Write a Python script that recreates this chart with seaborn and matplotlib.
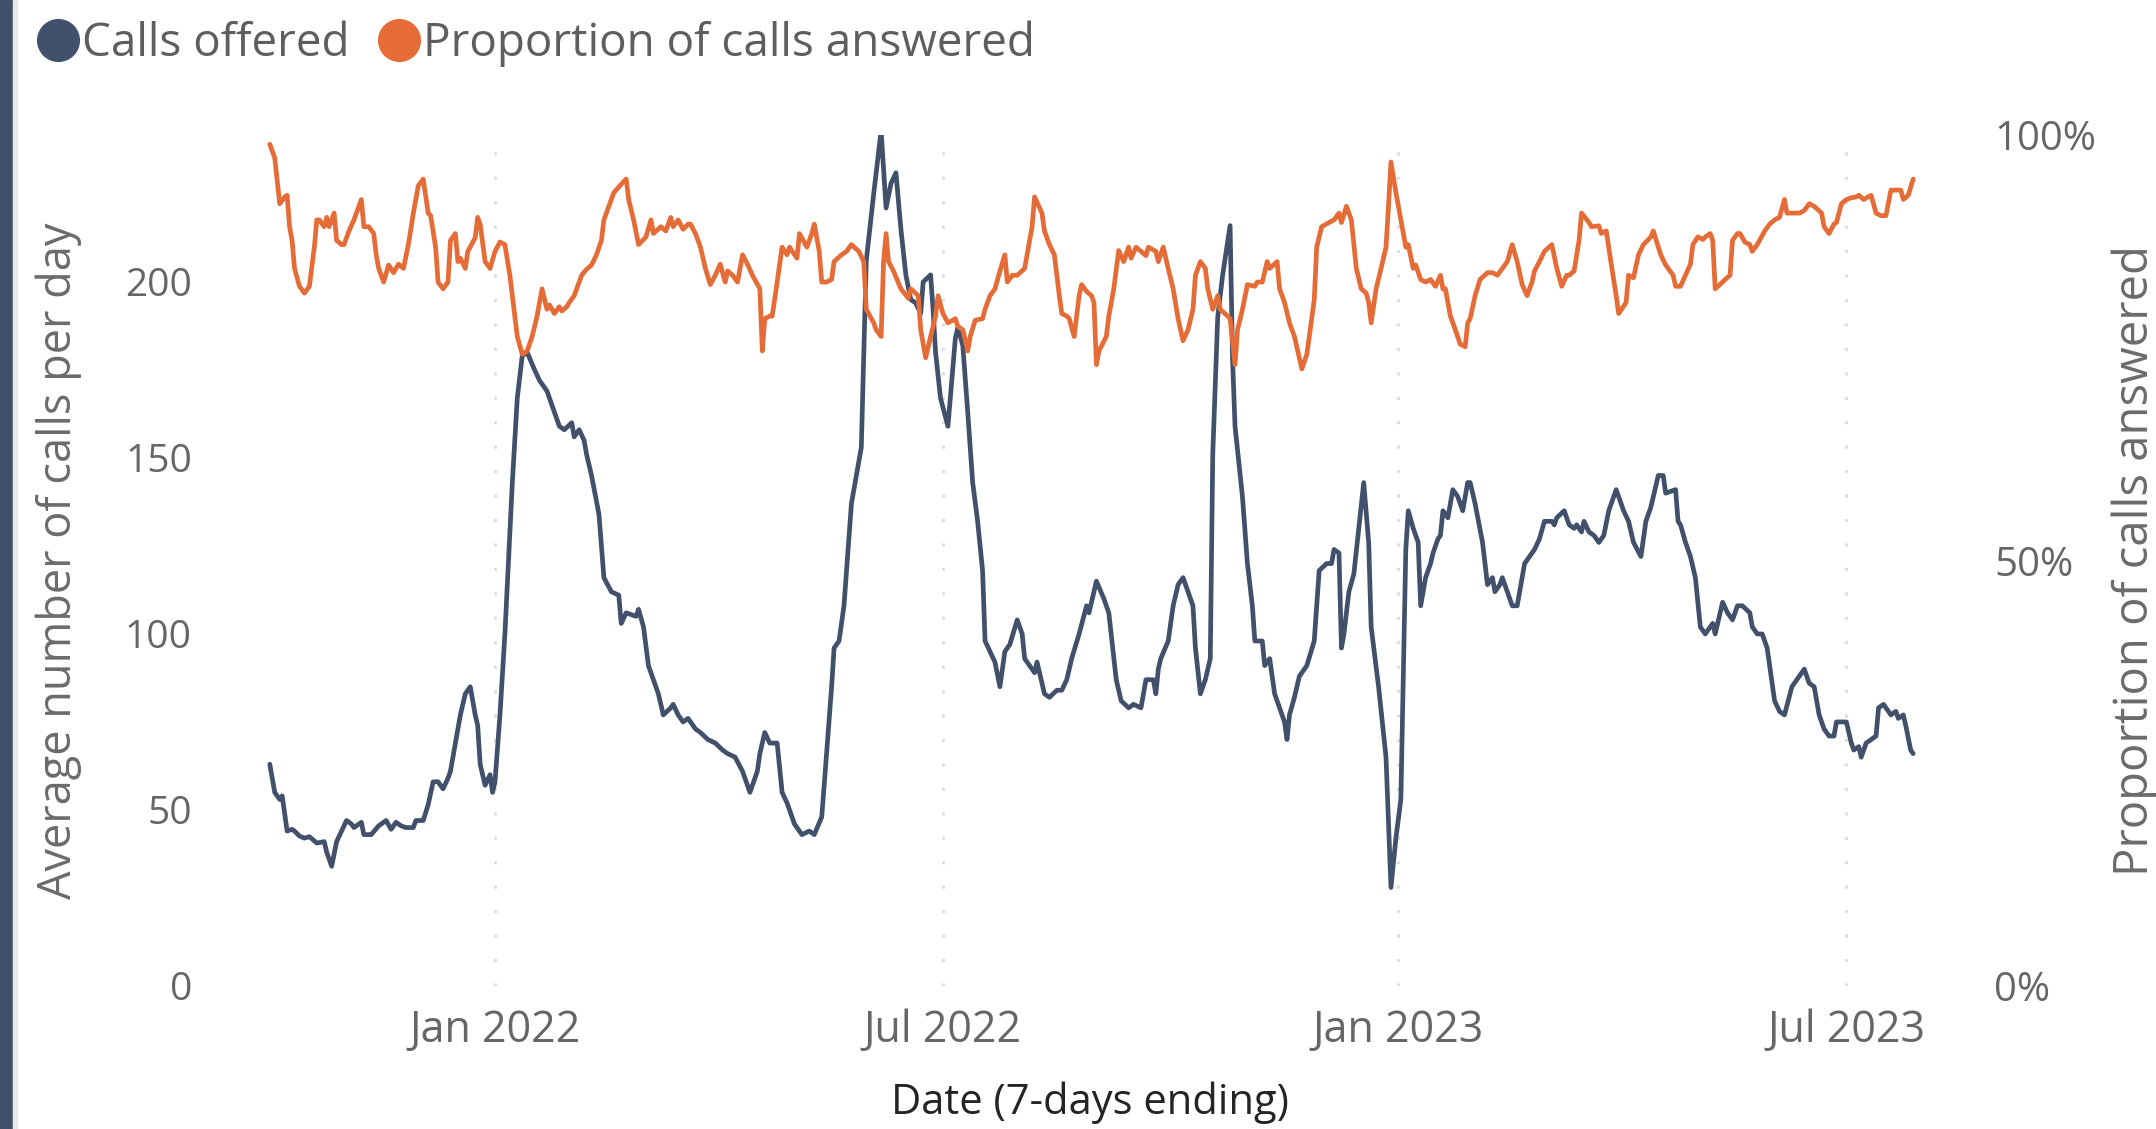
import numpy as np
import pandas as pd
import matplotlib
matplotlib.use("Agg")
import matplotlib.pyplot as plt
import matplotlib.dates as mdates
from matplotlib.lines import Line2D
from matplotlib.patches import Rectangle
from matplotlib.ticker import FuncFormatter
import seaborn as sns

# Days relative to 1 Jan 2022 (7-day window ending on that day)
calls_day = [
    -91, -89, -87, -86, -84, -82, -81, -79, -77, -75,
    -72, -69, -68, -66, -64, -62, -60, -58, -57, -54,
    -53, -50, -47, -44, -42, -40, -38, -36, -33, -32,
    -29, -27, -25, -23, -21, -19, -18, -16, -14, -12,
    -10, -8, -7, -6, -4, -2, -1, 0, 2, 4,
    7, 9, 11, 13, 16, 18, 21, 24, 26, 28,
    31, 32, 34, 36, 37, 39, 42, 44, 47, 50,
    51, 53, 57, 58, 60, 62, 66, 68, 71, 72,
    74, 76, 78, 81, 83, 86, 89, 92, 94, 97,
    100, 103, 106, 107, 109, 111, 114, 116, 118, 121,
    124, 127, 129, 132, 133, 136, 137, 139, 141, 144,
    148, 150, 153, 156, 158, 160, 162, 164, 166, 168,
    170, 172, 173, 176, 177, 178, 180, 183, 186, 187,
    189, 191, 193, 195, 197, 198, 200, 202, 204, 206,
    208, 211, 213, 214, 218, 219, 222, 224, 227, 229,
    231, 233, 236, 239, 240, 243, 246, 248, 251, 253,
    256, 258, 261, 263, 266, 267, 268, 269, 272, 274,
    276, 278, 280, 282, 283, 285, 287, 289, 290, 292,
    294, 297, 298, 299, 302, 304, 306, 307, 310, 311,
    313, 315, 317, 319, 320, 321, 323, 325, 328, 331,
    333, 336, 338, 339, 341, 342, 343, 345, 347, 349,
    351, 353, 354, 357, 360, 362, 364, 366, 368, 369,
    371, 373, 374, 376, 378, 379, 381, 382, 383, 385,
    387, 389, 391, 393, 394, 396, 399, 401, 403, 404,
    406, 407, 408, 411, 413, 416, 418, 420, 422, 424,
    427, 428, 429, 432, 434, 436, 437, 439, 440, 442,
    444, 446, 448, 450, 452, 453, 456, 458, 460, 463,
    465, 467, 469, 470, 472, 473, 477, 478, 479, 481,
    483, 485, 487, 489, 492, 493, 496, 498, 500, 502,
    504, 507, 508, 510, 512, 514, 517, 519, 521, 524,
    526, 528, 529, 531, 533, 535, 537, 539, 541, 542,
    544, 546, 548, 549, 551, 552, 554, 556, 558, 559,
    561, 563, 564, 566, 567, 569, 570, 572, 573,
]

# Average number of calls offered per day
calls_offered = [
    63, 55, 53, 54, 44, 44.5, 44, 42.6, 42, 42.4,
    40.6, 41, 38, 34, 41, 44, 47, 46, 45, 46.5,
    43, 43, 45.5, 47, 44.5, 46.5, 45.5, 45, 45, 47,
    47, 51.5, 58, 58, 56, 59, 61, 69, 77, 83,
    85, 77, 74, 63, 57, 60, 55, 58, 77, 100,
    143, 167, 179, 180, 175, 172, 169, 163, 159, 158,
    160, 156, 158, 155, 151, 145, 134, 116, 112, 111,
    103, 106, 105, 107, 102, 91, 83, 77, 79, 80,
    77, 75, 76, 73, 72, 70, 69, 67, 66, 65,
    61, 55, 61, 66, 72, 69, 69, 55, 52, 46,
    43, 44, 43, 48, 57, 85, 96, 98, 108, 137,
    153, 206, 225, 243, 221, 228, 231, 215, 202, 195,
    194, 191, 200, 202, 192, 180, 167, 159, 184, 187,
    182, 163, 143, 132, 118, 98, 95, 92, 85, 95,
    97, 104, 100, 93, 89, 92, 83, 82, 84, 84,
    87, 93, 100, 108, 106, 115, 110, 106, 87, 81,
    79, 80, 79, 87, 87, 83, 90, 93, 98, 108,
    114, 116, 112, 108, 96, 83, 87, 93, 151, 190,
    202, 216, 178, 159, 139, 120, 108, 98, 98, 91,
    93, 83, 79, 75, 70, 77, 82, 88, 91, 98,
    118, 120, 120, 124, 123, 96, 100, 112, 117, 130,
    143, 126, 102, 85, 65, 28, 42, 53, 124, 135,
    130, 126, 108, 116, 120, 123, 127, 128, 135, 133,
    141, 139, 135, 143, 143, 137, 126, 114, 116, 112,
    114, 116, 114, 108, 108, 120, 122, 124, 127, 132,
    132, 131, 133, 135, 131, 130, 131, 129, 132, 129,
    128, 126, 128, 135, 139, 141, 135, 132, 126, 122,
    132, 136, 142, 145, 145, 140, 141, 132, 131, 126,
    122, 116, 102, 100, 103, 100, 109, 106, 104, 108,
    108, 106, 102, 100, 100, 96, 81, 78, 77, 85,
    87, 89, 90, 86, 85, 77, 73, 71, 71, 75,
    75, 75, 69, 67, 68, 65, 69, 70, 71, 79,
    80, 78, 77, 78, 76, 77, 74, 67, 66,
]

answered_day = [
    -91, -89, -87, -85, -84, -83, -82, -81, -79, -77,
    -75, -73, -72, -71, -69, -68, -67, -65, -64, -62,
    -61, -59, -57, -54, -53, -51, -49, -48, -47, -45,
    -43, -41, -39, -37, -35, -33, -31, -29, -27, -26,
    -24, -23, -21, -19, -18, -16, -15, -14, -12, -11,
    -8, -7, -6, -4, -2, 0, 2, 4, 6, 7,
    9, 11, 13, 15, 17, 19, 21, 22, 24, 26,
    27, 29, 30, 32, 33, 35, 37, 39, 41, 43,
    44, 46, 48, 51, 53, 54, 56, 58, 61, 63,
    64, 67, 69, 71, 72, 74, 76, 78, 79, 81,
    83, 85, 87, 89, 91, 93, 94, 96, 98, 100,
    102, 104, 107, 108, 109, 111, 112, 114, 116, 118,
    119, 122, 123, 126, 128, 129, 131, 132, 134, 136,
    137, 140, 142, 144, 147, 149, 150, 153, 154, 156,
    157, 158, 159, 161, 164, 167, 168, 171, 172, 174,
    176, 178, 179, 181, 183, 186, 187, 189, 191, 192,
    194, 197, 198, 200, 202, 204, 206, 207, 209, 211,
    214, 216, 217, 218, 221, 222, 224, 226, 228, 229,
    231, 232, 234, 236, 237, 239, 241, 242, 243, 244,
    247, 248, 250, 252, 254, 256, 257, 259, 261, 263,
    264, 267, 268, 270, 272, 274, 276, 278, 280, 282,
    283, 285, 287, 288, 290, 292, 293, 296, 297, 299,
    300, 302, 304, 307, 308, 310, 312, 313, 316, 317,
    319, 321, 323, 325, 326, 328, 329, 331, 332, 334,
    337, 339, 341, 342, 344, 346, 348, 350, 352, 353,
    354, 356, 358, 360, 361, 362, 364, 366, 368, 369,
    371, 372, 374, 376, 378, 380, 382, 383, 384, 386,
    388, 390, 392, 393, 394, 396, 398, 401, 403, 405,
    407, 409, 411, 413, 415, 417, 419, 420, 422, 424,
    427, 429, 431, 433, 434, 436, 438, 439, 442, 443,
    446, 447, 449, 451, 453, 454, 457, 458, 460, 462,
    464, 467, 468, 471, 473, 476, 477, 479, 481, 483,
    484, 486, 488, 489, 491, 492, 493, 496, 497, 499,
    500, 502, 503, 505, 507, 508, 510, 513, 515, 517,
    519, 521, 522, 524, 527, 529, 531, 533, 536, 537,
    539, 541, 542, 544, 546, 548, 550, 551, 553, 556,
    558, 560, 562, 564, 566, 568, 569, 571, 573,
]

# Proportion of calls answered, in percent
answered_pct = [
    98.9, 97.3, 91.9, 92.7, 92.9, 89.2, 87.6, 84.3, 82.2, 81.4,
    82.2, 86.8, 90.0, 90.0, 89.2, 90.3, 89.2, 90.8, 87.6, 87.1,
    87.1, 88.7, 90.0, 92.4, 89.2, 89.2, 88.4, 85.9, 84.3, 82.7,
    84.7, 83.8, 84.8, 84.3, 87.1, 90.8, 94.0, 94.8, 90.8, 90.5,
    86.8, 82.7, 81.9, 82.7, 87.6, 88.4, 85.1, 85.5, 84.3, 86.3,
    87.9, 90.3, 89.5, 85.1, 84.3, 86.3, 87.4, 87.1, 83.5, 81.1,
    76.3, 74.2, 74.6, 76.3, 78.7, 81.9, 79.5, 80.0, 79.0, 79.8,
    79.3, 79.8, 80.3, 81.1, 81.9, 83.5, 84.2, 84.7, 85.9, 87.6,
    90.0, 91.6, 93.2, 94.2, 94.8, 92.4, 90.0, 87.1, 88.0, 90.0,
    88.4, 89.2, 88.7, 90.3, 89.2, 90.0, 88.9, 89.5, 89.5, 88.4,
    86.8, 84.3, 82.4, 83.5, 84.8, 82.7, 84.0, 83.5, 82.7, 85.9,
    84.8, 83.5, 81.9, 74.6, 78.4, 78.7, 78.7, 82.7, 86.8, 85.9,
    86.8, 85.5, 88.4, 86.8, 88.4, 89.5, 86.3, 82.7, 82.7, 83.0,
    85.1, 85.9, 86.3, 87.1, 86.3, 85.1, 79.5, 77.9, 77.1, 76.3,
    85.1, 88.4, 85.1, 84.0, 81.9, 80.8, 81.9, 81.1, 77.1, 73.8,
    76.3, 78.7, 81.1, 79.0, 77.9, 78.4, 77.5, 77.1, 74.6, 76.3,
    78.2, 78.4, 79.5, 81.1, 81.9, 84.0, 85.9, 82.7, 83.5, 83.5,
    84.3, 87.6, 89.2, 92.7, 90.8, 88.7, 87.1, 85.9, 81.1, 79.0,
    78.7, 78.4, 76.3, 81.1, 82.4, 81.6, 81.1, 80.3, 73.0, 74.6,
    76.3, 78.7, 81.9, 86.4, 85.1, 86.8, 85.5, 86.8, 86.3, 85.8,
    86.8, 86.3, 85.1, 86.8, 84.3, 81.9, 78.4, 75.8, 77.1, 79.5,
    83.5, 85.1, 84.3, 81.9, 79.5, 81.1, 79.5, 78.7, 78.4, 73.0,
    77.1, 79.5, 82.4, 82.2, 82.7, 82.7, 85.1, 84.3, 85.1, 81.9,
    80.3, 77.9, 76.3, 73.8, 72.5, 74.2, 76.3, 80.6, 86.8, 89.2,
    89.7, 90.0, 90.8, 89.7, 91.6, 90.0, 84.3, 81.9, 81.4, 80.3,
    77.9, 81.9, 84.3, 86.8, 91.6, 96.8, 93.2, 90.0, 86.8, 87.1,
    84.3, 84.7, 83.0, 82.7, 83.0, 82.2, 83.5, 81.9, 81.9, 78.7,
    77.1, 75.4, 75.1, 77.9, 78.4, 81.1, 83.0, 83.8, 83.8, 83.5,
    84.3, 85.1, 87.1, 85.1, 82.4, 81.1, 82.7, 84.0, 85.1, 86.3,
    87.1, 84.3, 82.2, 83.5, 83.5, 84.0, 87.6, 90.8, 89.7, 89.2,
    89.3, 88.4, 88.7, 84.8, 81.1, 79.0, 80.3, 83.5, 83.2, 85.9,
    87.1, 88.0, 88.7, 85.9, 84.7, 83.5, 82.2, 82.2, 83.5, 84.8,
    87.1, 88.0, 87.7, 88.0, 88.4, 87.6, 81.9, 82.7, 83.0, 83.5,
    87.6, 88.4, 88.4, 87.4, 87.1, 86.3, 87.1, 88.7, 89.5, 90.0,
    90.3, 92.4, 90.8, 90.8, 90.8, 91.1, 91.9, 91.6, 90.8, 89.2,
    88.4, 89.5, 89.7, 91.9, 92.4, 92.6, 92.7, 92.9, 92.4, 92.9,
    90.8, 90.5, 90.5, 93.5, 93.5, 93.5, 92.4, 92.9, 94.8,
]

x_tick_dates = ["2022-01-01", "2022-07-01", "2023-01-01", "2023-07-01"]
left_ticks = [0, 50, 100, 150, 200]
right_ticks = [0, 50, 100]

assert len(calls_day) == len(calls_offered)
assert len(answered_day) == len(answered_pct)

NAVY = "#41516B"
ORANGE = "#E66C37"
TICK_GREY = "#666666"

origin = pd.Timestamp("2022-01-01")
calls = pd.DataFrame({
    "date": origin + pd.to_timedelta(calls_day, unit="D"),
    "value": calls_offered,
})
answered = pd.DataFrame({
    "date": origin + pd.to_timedelta(answered_day, unit="D"),
    "value": answered_pct,
})

sns.set_theme(style="white")
plt.rcParams["font.family"] = ["Open Sans", "DejaVu Sans"]

fig = plt.figure(figsize=(21.56, 11.29), dpi=100)
ax = fig.add_axes([0.1148, 0.1267, 0.7844, 0.7539])
ax2 = ax.twinx()

sns.lineplot(data=calls, x="date", y="value", ax=ax, color=NAVY,
             linewidth=3.4, estimator=None, sort=False)
sns.lineplot(data=answered, x="date", y="value", ax=ax2, color=ORANGE,
             linewidth=3.4, estimator=None, sort=False)

# axis ranges
ax.set_xlim(origin + pd.Timedelta(days=-100), origin + pd.Timedelta(days=583.3))
ax.set_ylim(0, 241.8)
ax2.set_ylim(0, 100)

# ticks
ax.set_xticks(pd.to_datetime(x_tick_dates))
ax.xaxis.set_major_formatter(mdates.DateFormatter("%b %Y"))
ax.set_yticks(left_ticks)
ax2.set_yticks(right_ticks)
ax2.yaxis.set_major_formatter(FuncFormatter(lambda v, _: f"{v:.0f}%"))

ax.tick_params(axis="x", length=0, labelsize=31, labelcolor=TICK_GREY, pad=16)
ax.tick_params(axis="y", length=0, labelsize=28, labelcolor=TICK_GREY, pad=40)
ax2.tick_params(axis="y", length=0, labelsize=29, labelcolor=TICK_GREY, pad=40)

# dotted vertical gridlines at the date ticks
ax.grid(False)
ax2.grid(False)
ax.xaxis.grid(True, color="#dedede", linewidth=2.2, linestyle=(0, (1, 7)))

for a in (ax, ax2):
    for s in a.spines.values():
        s.set_visible(False)

# axis titles
ax.set_xlabel("Date (7-days ending)", fontsize=30, color="#252423")
ax.xaxis.set_label_coords(0.498, -0.112)
ax.set_ylabel("Average number of calls per day", fontsize=32.5, color="#6b6b6b")
ax.yaxis.set_label_coords(-0.098, 0.5)
ax2.set_ylabel("Proportion of calls answered", fontsize=34, color="#6b6b6b")
ax2.yaxis.set_label_coords(1.102, 0.5)

# legend
handles = [
    Line2D([0], [0], marker="o", linestyle="", markersize=30, color=NAVY),
    Line2D([0], [0], marker="o", linestyle="", markersize=30, color=ORANGE),
]
fig.legend(handles, ["Calls offered", "Proportion of calls answered"],
           loc="center left", bbox_to_anchor=(0.017, 0.961), ncol=2,
           frameon=False, fontsize=33, handletextpad=0.05, columnspacing=0.6,
           handlelength=0.95, borderpad=0, borderaxespad=0, labelcolor="#605E5C")

# page edge accent
fig.add_artist(Rectangle((0, 0), 13 / 2156, 1, transform=fig.transFigure,
                         color="#3f5069", zorder=10))
fig.add_artist(Rectangle((13 / 2156, 0), 4 / 2156, 1, transform=fig.transFigure,
                         color="#e9e9e9", zorder=10))

fig.savefig("out.png", dpi=100)
